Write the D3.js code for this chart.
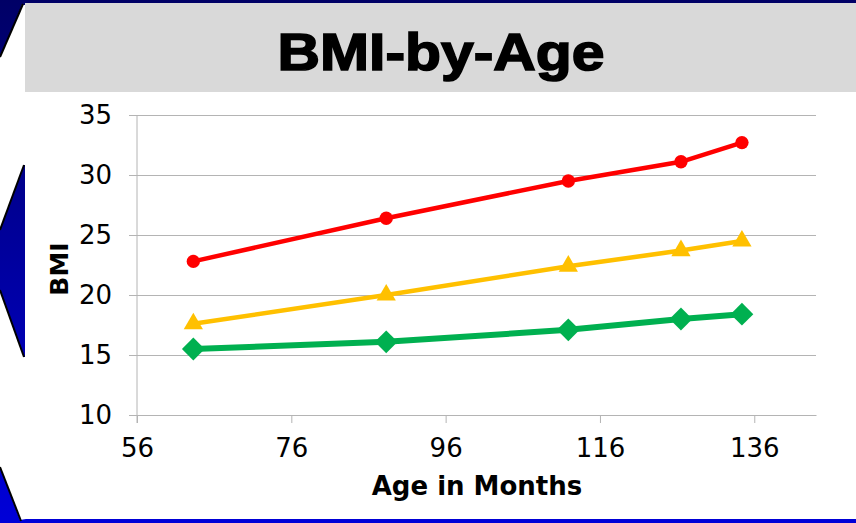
<!DOCTYPE html>
<html>
<head>
<meta charset="utf-8">
<script src="https://cdn.jsdelivr.net/npm/d3@7"></script>
<style>
  html, body { margin: 0; padding: 0; background: #000080; }
  svg { display: block; }
</style>
</head>
<body>
<svg id="chart" width="856" height="523"></svg>
<script>
// Age (months) at each measurement
const ages = [63.3, 88.3, 111.9, 126.5, 134.4];
// BMI series
const bmiHigh = [22.8, 26.4, 29.5, 31.1, 32.7];
const bmiMid  = [17.6, 20.0, 22.4, 23.7, 24.5];
const bmiLow  = [15.5, 16.1, 17.1, 18.0, 18.4];
// Axis ticks
const xTicks = [56, 76, 96, 116, 136];
const yTicks = [10, 15, 20, 25, 30, 35];

const seriesList = [
  { name: "high", values: bmiHigh, color: "#ff0000", width: 4.5, marker: "circle" },
  { name: "mid",  values: bmiMid,  color: "#ffc000", width: 4.5, marker: "triangle" },
  { name: "low",  values: bmiLow,  color: "#00b050", width: 6, marker: "diamond" }
];

const svg = d3.select("#chart");
const W = 856, H = 523;

// Slide background with blue gradient
const defs = svg.append("defs");
const grad = defs.append("linearGradient").attr("id", "bg").attr("x1", 0).attr("y1", 0).attr("x2", 0).attr("y2", 1);
grad.append("stop").attr("offset", "0%").attr("stop-color", "#000066");
grad.append("stop").attr("offset", "100%").attr("stop-color", "#0000d8");
svg.append("rect").attr("width", W).attr("height", H).attr("fill", "url(#bg)");

// Chevron decorations on the left edge
const chevrons = [
  [[22, 5], [26, 5], [26, 165], [24, 165], [0, 230], [0, 57]],
  [[0, 290], [24, 357], [26, 357], [26, 519], [20, 520], [0, 467]]
];
svg.selectAll("polygon.chev").data(chevrons).join("polygon")
  .attr("class", "chev")
  .attr("points", d => d.map(p => p.join(",")).join(" "))
  .attr("fill", "#ffffff");
const edges = [
  [[23, 4], [0, 57]], [[24, 165], [0, 230]],
  [[0, 290], [24, 357]], [[0, 467], [21, 521]]
];
svg.selectAll("line.edge").data(edges).join("line")
  .attr("class", "edge")
  .attr("x1", d => d[0][0]).attr("y1", d => d[0][1])
  .attr("x2", d => d[1][0]).attr("y2", d => d[1][1])
  .attr("stroke", "#000").attr("stroke-width", 2);

// Title bar and white chart panel
svg.append("rect").attr("x", 25).attr("y", 3).attr("width", W - 25).attr("height", 89).attr("fill", "#d9d9d9");
svg.append("rect").attr("x", 25).attr("y", 92).attr("width", W - 25).attr("height", 427).attr("fill", "#ffffff");

svg.append("text")
  .attr("x", 441).attr("y", 70)
  .attr("text-anchor", "middle")
  .attr("font-family", "'Liberation Sans', Arial, sans-serif")
  .attr("font-weight", "bold")
  .attr("font-size", 52)
  .attr("textLength", 327)
  .attr("lengthAdjust", "spacingAndGlyphs")
  .attr("stroke", "#000").attr("stroke-width", 1.6)
  .attr("fill", "#000")
  .text("BMI-by-Age");

// Scales
const x = d3.scaleLinear().domain([56, 144]).range([137, 816]);
const y = d3.scaleLinear().domain([10, 35]).range([415, 115]);

const gridColor = "#b4b4b4";
const font = "'DejaVu Sans', Verdana, sans-serif";

// Horizontal gridlines via a left axis with full-width ticks
const yAxis = svg.append("g")
  .attr("transform", `translate(${x.range()[0]},0)`)
  .call(d3.axisLeft(y).tickValues(yTicks).tickSize(-(x.range()[1] - x.range()[0])).tickSizeOuter(0).tickPadding(0).tickFormat(""));
yAxis.select(".domain").remove();
yAxis.selectAll(".tick line").attr("stroke", gridColor).attr("x1", -8);

// Y tick labels
svg.append("g").selectAll("text").data(yTicks).join("text")
  .attr("x", 112).attr("y", d => y(d))
  .attr("dy", "0.36em")
  .attr("text-anchor", "end")
  .attr("font-family", font).attr("font-size", 26)
  .attr("fill", "#000")
  .text(d => d);

// Vertical axis line
svg.append("line")
  .attr("x1", x.range()[0]).attr("x2", x.range()[0])
  .attr("y1", y.range()[1]).attr("y2", y.range()[0] + 8)
  .attr("stroke", gridColor);

// X axis with downward tick marks
const xAxis = svg.append("g")
  .attr("transform", `translate(0,${y.range()[0]})`)
  .call(d3.axisBottom(x).tickValues(xTicks).tickSize(8).tickSizeOuter(0).tickPadding(16).tickFormat(d3.format("d")));
xAxis.select(".domain").attr("stroke", gridColor);
xAxis.selectAll(".tick line").attr("stroke", gridColor);
xAxis.selectAll(".tick text")
  .attr("font-family", font).attr("font-size", 26).attr("fill", "#000");

// Axis titles
svg.append("text")
  .attr("x", 477).attr("y", 495)
  .attr("text-anchor", "middle")
  .attr("font-family", font).attr("font-weight", "bold").attr("font-size", 26)
  .attr("fill", "#000")
  .text("Age in Months");

svg.append("text")
  .attr("transform", "translate(68,269) rotate(-90)")
  .attr("text-anchor", "middle")
  .attr("font-family", font).attr("font-weight", "bold").attr("font-size", 25)
  .attr("fill", "#000")
  .text("BMI");

// Lines and markers
const line = d3.line().x((d, i) => x(ages[i])).y(d => y(d));
const symbolType = { circle: d3.symbolCircle, triangle: d3.symbolTriangle, diamond: d3.symbolSquare };
const symbolSize = { circle: 140, triangle: 160, diamond: 260 };

seriesList.forEach(s => {
  svg.append("path")
    .datum(s.values)
    .attr("d", line)
    .attr("fill", "none")
    .attr("stroke", s.color)
    .attr("stroke-width", s.width)
    .attr("stroke-linejoin", "round");
  const sym = d3.symbol().type(symbolType[s.marker]).size(symbolSize[s.marker]);
  svg.append("g").selectAll("path").data(s.values).join("path")
    .attr("d", sym)
    .attr("transform", (d, i) => `translate(${x(ages[i])},${y(d)})${s.marker === "diamond" ? " rotate(45)" : ""}`)
    .attr("fill", s.color);
});
</script>
</body>
</html>
